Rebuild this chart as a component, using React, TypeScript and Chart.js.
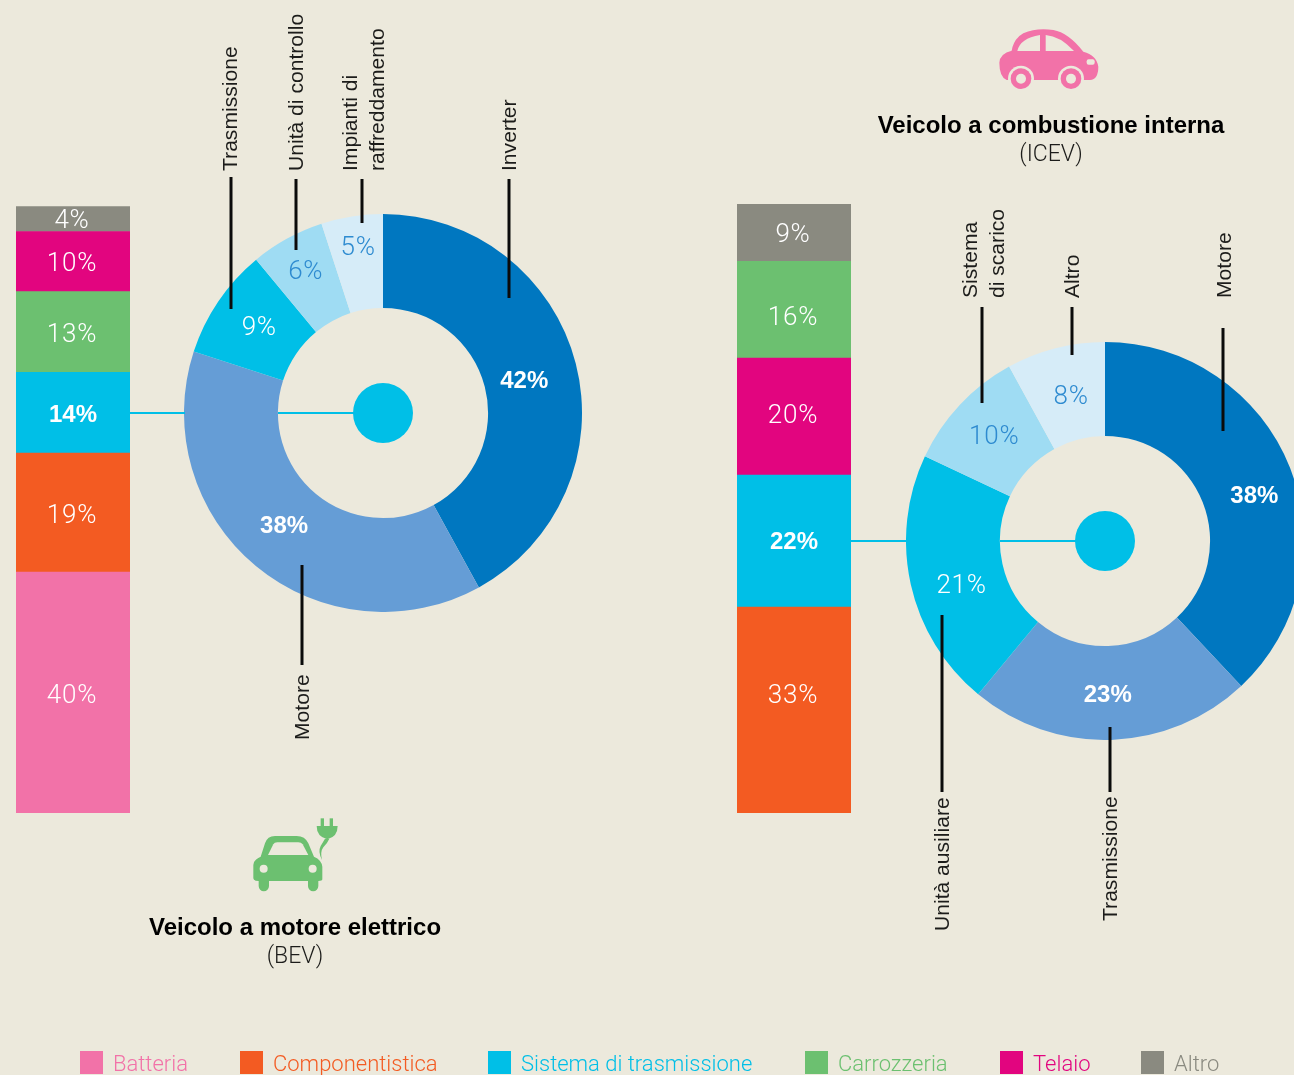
import React, { useEffect, useRef } from "react";
import { Chart, registerables } from "chart.js";

Chart.register(...registerables);

// ---------- data ----------
const bevStackCategories = ["Batteria", "Componentistica", "Sistema di trasmissione", "Carrozzeria", "Telaio", "Altro"];
const bevStackHeights = [39.7, 19.6, 13.3, 13.3, 9.9, 4.1];
const bevStackLabels = ["40%", "19%", "14%", "13%", "10%", "4%"];

const icevStackCategories = ["Componentistica", "Sistema di trasmissione", "Telaio", "Carrozzeria", "Altro"];
const icevStackHeights = [33.8, 21.7, 19.2, 15.9, 9.4];
const icevStackLabels = ["33%", "22%", "20%", "16%", "9%"];

const bevDonutCategories = ["Inverter", "Motore", "Trasmissione", "Unità di controllo", "Impianti di raffreddamento"];
const bevDonutValues = [42, 38, 9, 6, 5];

const icevDonutCategories = ["Motore", "Trasmissione", "Unità ausiliare", "Sistema di scarico", "Altro"];
const icevDonutValues = [38, 23, 21, 10, 8];

const legendCategories = ["Batteria", "Componentistica", "Sistema di trasmissione", "Carrozzeria", "Telaio", "Altro"];

// ---------- styles ----------
const BG = "#ECE9DC";
const INK = "#1c1c1a";
const CYAN = "#00BFE7";
const categoryColor: Record<string, string> = {
  Batteria: "#F272A8",
  Componentistica: "#F35B22",
  "Sistema di trasmissione": CYAN,
  Carrozzeria: "#6CC070",
  Telaio: "#E2057F",
  Altro: "#8A8A80",
};
const donutColors = ["#0077C0", "#659DD6", CYAN, "#9FDCF3", "#D6ECF8"];
const donutTextColors = ["#fff", "#fff", "#fff", "#2E8BD0", "#2E8BD0"];
const donutBold = [true, true, false, false, false];
const bevLabelOffsets = [[-6, 5], [-2, -5], [2, 0], [-4, -8.5], [-1, -15]];
const icevLabelOffsets = [[8, 10], [-2, 1], [5, 11.5], [0, 0], [4, 3]];
const bevStackLabelOffsets = [4, 4, 3, 4, 3, 2];
const icevStackLabelOffsets = [-14, 1, 0, 9, 3];
const LIGHT = "Roboto, 'Liberation Sans', sans-serif";
const BOLD = "'Liberation Sans', Arial, sans-serif";

function setLabelFont(ctx: any, bold: boolean) {
  ctx.font = bold ? `bold 24px ${BOLD}` : `300 26px ${LIGHT}`;
  ctx.letterSpacing = bold ? "0px" : "0.8px";
}

function StackBar({ left, top, height, categories, values, labels, offsets, boldLabel }: any) {
  const ref = useRef<HTMLCanvasElement>(null);
  useEffect(() => {
    const chart = new Chart(ref.current!, {
      type: "bar",
      data: {
        labels: [""],
        datasets: categories.map((c: string, i: number) => ({
          label: c,
          data: [values[i]],
          backgroundColor: categoryColor[c],
          borderWidth: 0,
          barPercentage: 1,
          categoryPercentage: 1,
        })),
      },
      options: {
        animation: false,
        responsive: false,
        layout: { padding: 0 },
        plugins: { legend: { display: false }, tooltip: { enabled: false } },
        scales: {
          x: { stacked: true, display: false },
          y: { stacked: true, display: false, min: 0, max: 100 },
        },
      },
      plugins: [
        {
          id: "stackLabels",
          afterDatasetsDraw(c: any) {
            const ctx = c.ctx;
            ctx.save();
            ctx.textAlign = "center";
            ctx.textBaseline = "middle";
            ctx.fillStyle = "#fff";
            c.data.datasets.forEach((d: any, i: number) => {
              const el = c.getDatasetMeta(i).data[0];
              const bold = d.label === boldLabel;
              setLabelFont(ctx, bold);
              ctx.fillText(labels[i], bold ? el.x : el.x - 1, (el.y + el.base) / 2 + offsets[i]);
            });
            ctx.restore();
          },
        },
      ],
    } as any);
    return () => chart.destroy();
  }, []);
  return (
    <canvas
      ref={ref}
      width={114}
      height={height}
      style={{ position: "absolute", left, top, width: 114, height }}
    />
  );
}

function Donut({ cx, cy, categories, values, offsets }: any) {
  const ref = useRef<HTMLCanvasElement>(null);
  useEffect(() => {
    const chart = new Chart(ref.current!, {
      type: "doughnut",
      data: {
        labels: categories,
        datasets: [{ data: values, backgroundColor: donutColors, borderWidth: 0 }],
      },
      options: {
        animation: false,
        responsive: false,
        cutout: "52.8%",
        layout: { padding: 0 },
        plugins: { legend: { display: false }, tooltip: { enabled: false } },
      },
      plugins: [
        {
          id: "sliceLabels",
          afterDatasetsDraw(c: any) {
            const ctx = c.ctx;
            ctx.save();
            ctx.textAlign = "center";
            ctx.textBaseline = "middle";
            c.getDatasetMeta(0).data.forEach((el: any, i: number) => {
              const p = el.getCenterPoint();
              setLabelFont(ctx, donutBold[i]);
              ctx.fillStyle = donutTextColors[i];
              ctx.fillText(`${values[i]}%`, p.x + offsets[i][0], p.y + offsets[i][1] + 1);
            });
            ctx.restore();
          },
        },
      ],
    } as any);
    return () => chart.destroy();
  }, []);
  return (
    <canvas
      ref={ref}
      width={398}
      height={398}
      style={{ position: "absolute", left: cx - 199, top: cy - 199, width: 398, height: 398 }}
    />
  );
}

function VLabel({ x, y, lines }: { x: number; y: number; lines: string[] }) {
  return (
    <div
      style={{
        position: "absolute",
        left: 0,
        top: 0,
        transformOrigin: "0 0",
        transform: `translate(${x}px, ${y}px) rotate(-90deg) translateY(-50%)`,
        whiteSpace: "pre",
        font: `400 21.1px/27px 'Liberation Sans', Arial, sans-serif`,
        color: INK,
      }}
    >
      {lines.join("\n")}
    </div>
  );
}

function Title({ cx, y, title, sub }: { cx: number; y: number; title: string; sub: string }) {
  return (
    <div
      style={{
        position: "absolute",
        left: cx - 250,
        top: y,
        width: 500,
        textAlign: "center",
        color: "#000",
      }}
    >
      <div style={{ font: `bold 24px/29px ${BOLD}` }}>{title}</div>
      <div style={{ font: `300 23px/29px ${LIGHT}`, color: INK }}>{sub}</div>
    </div>
  );
}

const leaderLines = [
  [231, 177, 309],
  [296, 179, 250],
  [362, 179, 223],
  [509, 179, 298],
  [302, 565, 665],
  [982, 307, 403],
  [1072, 307, 355],
  [1223, 328, 431],
  [942, 615, 792],
  [1110, 727, 792],
];
const legendSquareX = [80, 240, 488, 805, 1000, 1141];

export default function App() {
  useEffect(() => {
    document.body.style.margin = "0";
    document.body.style.background = BG;
    document.documentElement.style.overflow = "hidden";
  }, []);
  return (
    <div style={{ position: "absolute", left: 0, top: 0, width: 1294, height: 1075, overflow: "hidden", background: BG }}>
      <StackBar left={16} top={206} height={607} categories={bevStackCategories} values={bevStackHeights} labels={bevStackLabels} offsets={bevStackLabelOffsets} boldLabel="Sistema di trasmissione" />
      <StackBar left={737} top={204} height={609} categories={icevStackCategories} values={icevStackHeights} labels={icevStackLabels} offsets={icevStackLabelOffsets} boldLabel="Sistema di trasmissione" />
      <Donut cx={383} cy={413} categories={bevDonutCategories} values={bevDonutValues} offsets={bevLabelOffsets} />
      <Donut cx={1105} cy={541} categories={icevDonutCategories} values={icevDonutValues} offsets={icevLabelOffsets} />

      <svg width={1294} height={1075} style={{ position: "absolute", left: 0, top: 0 }}>
        {leaderLines.map(([x, a, b], i) => (
          <line key={i} x1={x} x2={x} y1={a} y2={b} stroke="#0b0b0b" strokeWidth={3} />
        ))}
        <line x1={130} x2={185} y1={413} y2={413} stroke={CYAN} strokeWidth={2} />
        <line x1={278} x2={355} y1={413} y2={413} stroke={CYAN} strokeWidth={2} />
        <circle cx={383} cy={413} r={30} fill={CYAN} />
        <line x1={851} x2={906} y1={541} y2={541} stroke={CYAN} strokeWidth={2} />
        <line x1={1000} x2={1077} y1={541} y2={541} stroke={CYAN} strokeWidth={2} />
        <circle cx={1105} cy={541} r={30} fill={CYAN} />

        {/* electric car */}
        <g transform="translate(240 810) scale(0.3333)" fill="#6CC070">
          <path d="M40 165 Q40 150 62 140 L75 100 Q82 78 105 78 L170 78 Q195 78 205 100 L222 140 Q245 150 247 170 L247 208 Q247 213 235 213 L235 228 A15 15 0 0 1 204 228 L204 213 L87 213 L87 228 A15 15 0 0 1 56 228 L56 213 Q40 213 40 205 Z" />
          <path d="M84 135 L100 103 Q103 97 112 97 L175 97 Q184 97 188 103 L205 135 Z" fill={BG} />
          <circle cx={71} cy={176} r={12} fill={BG} />
          <circle cx={218} cy={176} r={12} fill={BG} />
          <path d="M230 48 L293 48 Q293 80 262 88 Q230 80 230 48 Z" />
          <rect x={242} y={25} width={10} height={25} />
          <rect x={269} y={25} width={10} height={25} />
          <path d="M255 86 L268 86 Q262 100 250 112 Q240 125 246 150 Q233 125 242 108 Z" />
        </g>

        {/* combustion car */}
        <g transform="translate(990 20) scale(0.3333)">
          <path fill="#F272A8" d="M28 128 Q30 100 65 92 Q72 55 100 40 Q140 22 190 30 Q235 38 280 95 Q320 105 325 140 Q325 178 300 180 L50 180 Q28 170 28 128 Z" />
          <path fill={BG} d="M82 93 Q90 55 150 45 L150 93 Z" />
          <path fill={BG} d="M167 45 Q210 48 252 93 L167 93 Z" />
          <rect x={290} y={118} width={24} height={16} rx={6} fill={BG} />
          <circle cx={93} cy={176} r={39} fill={BG} />
          <circle cx={243} cy={176} r={39} fill={BG} />
          <circle cx={93} cy={176} r={31} fill="#F272A8" />
          <circle cx={243} cy={176} r={31} fill="#F272A8" />
          <circle cx={93} cy={176} r={15} fill={BG} />
          <circle cx={243} cy={176} r={15} fill={BG} />
        </g>
      </svg>

      <VLabel x={229.5} y={171} lines={["Trasmissione"]} />
      <VLabel x={295.5} y={171} lines={["Unità di controllo"]} />
      <VLabel x={362.5} y={171} lines={["Impianti di", "raffreddamento"]} />
      <VLabel x={508.5} y={171} lines={["Inverter"]} />
      <VLabel x={301.5} y={740} lines={["Motore"]} />
      <VLabel x={982.5} y={298} lines={["Sistema", "di scarico"]} />
      <VLabel x={1071.5} y={298} lines={["Altro"]} />
      <VLabel x={1223.5} y={298} lines={["Motore"]} />
      <VLabel x={941.5} y={931} lines={["Unità ausiliare"]} />
      <VLabel x={1109.5} y={921} lines={["Trasmissione"]} />

      <Title cx={295} y={911.5} title="Veicolo a motore elettrico" sub="(BEV)" />
      <Title cx={1051} y={109.5} title="Veicolo a combustione interna" sub="(ICEV)" />

      {legendCategories.map((c, i) => (
        <React.Fragment key={c}>
          <div style={{ position: "absolute", left: legendSquareX[i], top: 1051, width: 23, height: 23, background: categoryColor[c] }} />
          <div
            style={{
              position: "absolute",
              left: legendSquareX[i] + 33,
              top: 1050,
              font: `300 22px/28px ${LIGHT}`,
              color: categoryColor[c],
              whiteSpace: "pre",
            }}
          >
            {c}
          </div>
        </React.Fragment>
      ))}
    </div>
  );
}
